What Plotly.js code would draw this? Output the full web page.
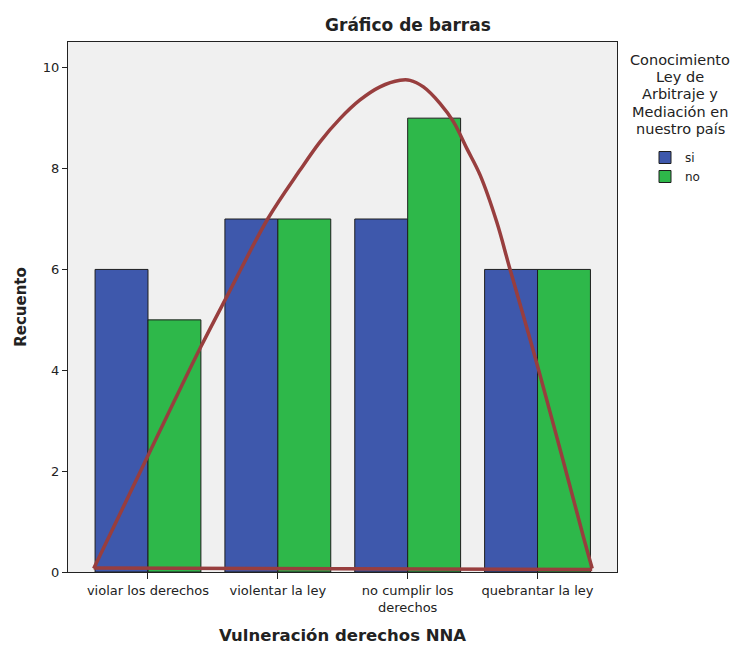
<!DOCTYPE html>
<html>
<head>
<meta charset="utf-8">
<script src="https://cdn.plot.ly/plotly-3.0.1.min.js"></script>
<style>html,body{margin:0;padding:0;background:#fff;}#chart{width:735px;height:645px;}</style>
</head>
<body>
<div id="chart"></div>
<script>
const categories = ["violar los derechos", "violentar la ley", "no cumplir los<br>derechos", "quebrantar la ley"];
const catPos = [0, 1, 2, 3];
const siValues = [6, 7, 7, 6];
const noValues = [5, 7, 9, 6];
const seriesNames = ["si", "no"];
const legendTitleLines = ["Conocimiento", "Ley de", "Arbitraje y", "Mediación en", "nuestro país"];
const curveX = [-0.418, 0.008, 0.406, 0.619, 0.924, 1.171, 1.325, 1.479, 1.633, 1.787, 1.941, 2.018, 2.121, 2.250, 2.352, 2.455, 2.558, 2.686, 2.783, 2.930, 3.009, 3.196, 3.354, 3.421];
const curveY = [0.07, 2.35, 4.46, 5.52, 7.01, 7.97, 8.53, 8.99, 9.36, 9.62, 9.75, 9.75, 9.62, 9.29, 8.93, 8.40, 7.87, 6.94, 6.05, 4.73, 4.00, 2.22, 0.69, 0.07];
const baseX = [3.421, -0.418];
const baseY = [0.05, 0.08];
const yTicks = [0, 2, 4, 6, 8, 10];

const FONT = "DejaVu Sans, Liberation Sans, Arial, sans-serif";
const CURVE = {color: "#983E3E", width: 3.5};

const traces = [
  {type: "bar", name: seriesNames[0], x: catPos, y: siValues,
   marker: {color: "#3E58AC", line: {color: "#1e1e1e", width: 1}}},
  {type: "bar", name: seriesNames[1], x: catPos, y: noValues,
   marker: {color: "#2EB84A", line: {color: "#1e1e1e", width: 1}}},
  {type: "scatter", mode: "lines", x: baseX, y: baseY, showlegend: false,
   line: {color: CURVE.color, width: CURVE.width}, hoverinfo: "skip"},
  {type: "scatter", mode: "lines", x: curveX, y: curveY, showlegend: false,
   line: {color: CURVE.color, width: CURVE.width, shape: "spline", smoothing: 1}, hoverinfo: "skip"}
];

const annotations = legendTitleLines.map((t, i) => ({
  text: t, xref: "paper", yref: "paper",
  x: (680 - 68) / 549, y: 1 - ((60 + i * 17.2) - 42) / 530,
  xanchor: "center", yanchor: "middle", showarrow: false,
  font: {size: 14.5, color: "#222", family: FONT}
}));

const layout = {
  width: 735, height: 645,
  margin: {l: 68, r: 118, t: 42, b: 73},
  paper_bgcolor: "#ffffff",
  plot_bgcolor: "#F0F0F0",
  font: {family: FONT, color: "#222", size: 12},
  barmode: "group",
  bargap: 0.185,
  bargroupgap: 0,
  title: {text: "<b>Gráfico de barras</b>", font: {size: 17, color: "#222", family: FONT},
          xref: "container", x: 0.555, xanchor: "center", yref: "container", y: 0.961, yanchor: "middle"},
  xaxis: {range: [-0.616, 3.612], tickvals: catPos, ticktext: categories,
          ticks: "outside", ticklen: 6, tickcolor: "#222", tickwidth: 1,
          showline: true, linecolor: "#222", linewidth: 1, mirror: true,
          showgrid: false, zeroline: false, fixedrange: true,
          tickfont: {size: 13, color: "#222", family: FONT},
          title: {text: "<b>Vulneración derechos NNA</b>", font: {size: 16.5, color: "#222", family: FONT}, standoff: 16}},
  yaxis: {range: [0, 10.51], tickvals: yTicks,
          ticks: "outside", ticklen: 5, tickcolor: "#222", tickwidth: 1,
          showline: true, linecolor: "#222", linewidth: 1, mirror: true,
          showgrid: false, zeroline: false, fixedrange: true,
          tickfont: {size: 13, color: "#222", family: FONT},
          title: {text: "<b>Recuento</b>", font: {size: 15, color: "#222", family: FONT}, standoff: 12}},
  showlegend: true,
  legend: {x: 645/735, xref: "container", y: 1 - 143/645, yref: "container", xanchor: "left", yanchor: "top",
           bgcolor: "rgba(0,0,0,0)", font: {size: 12, color: "#222", family: FONT}, tracegroupgap: 0, itemwidth: 30},
  annotations: annotations
};

Plotly.newPlot("chart", traces, layout, {displayModeBar: false, staticPlot: true});
</script>
</body>
</html>
